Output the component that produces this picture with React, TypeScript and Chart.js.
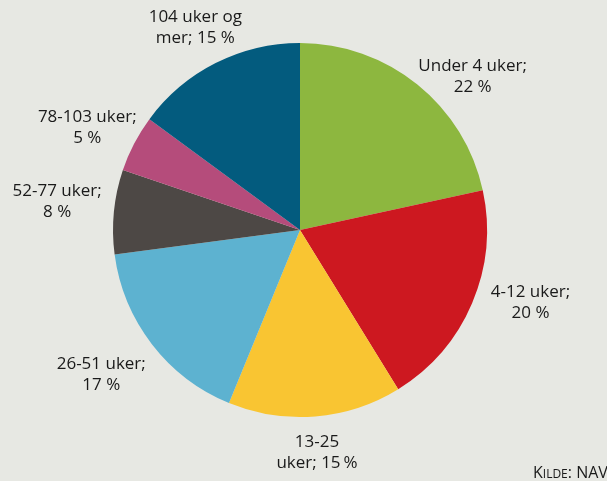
import React, { useEffect, useRef } from "react";
import { Chart, registerables } from "chart.js";

Chart.register(...registerables);

const categories = ["Under 4 uker", "4-12 uker", "13-25 uker", "26-51 uker", "52-77 uker", "78-103 uker", "104 uker og mer"];
const shares = [21.6, 19.6, 15.0, 16.7, 7.3, 4.9, 14.9];
const labelLines = [
  ["Under 4 uker;", "22 %"],
  ["4-12 uker;", "20 %"],
  ["13-25", "uker; 15\u2009%"],
  ["26-51 uker;", "17 %"],
  ["52-77 uker;", "8 %"],
  ["78-103 uker;", "5 %"],
  ["104 uker og", "mer; 15 %"],
];
const colors = ["#8db73f", "#cd1820", "#f9c532", "#5db2d0", "#4d4845", "#b54c7b", "#035b7e"];
const BG = "#e7e8e3";

// layout nudges for the slice labels (pixels, relative to mid-angle anchor)
const labelNudge: [number, number][] = [
  [27, 27],
  [17, -18],
  [-2, -9],
  [-15, 3],
  [-12, -6],
  [-7, 5],
  [0, 5],
];

const labelPlugin = {
  id: "sliceLabels",
  afterDraw(chart: any) {
    const ctx = chart.ctx;
    const meta = chart.getDatasetMeta(0);
    ctx.save();
    ctx.fillStyle = "#1a1a1a";
    ctx.font = "17px 'Open Sans', sans-serif";
    ctx.textAlign = "center";
    ctx.textBaseline = "middle";
    meta.data.forEach((arc: any, i: number) => {
      const mid = (arc.startAngle + arc.endAngle) / 2;
      const d = arc.outerRadius + 45;
      const x = arc.x + Math.cos(mid) * d + labelNudge[i][0];
      const y = arc.y + Math.sin(mid) * d + labelNudge[i][1];
      const lines = labelLines[i];
      lines.forEach((t, j) => {
        ctx.fillText(t, x, y + (j - (lines.length - 1) / 2) * 21);
      });
    });
    // source
    const w = chart.width;
    const h = chart.height;
    ctx.textAlign = "left";
    ctx.textBaseline = "alphabetic";
    let x = w - 74;
    const y = h - 3;
    const parts: [string, number][] = [["K", 16], ["ILDE", 12], [": NAV", 16]];
    parts.forEach(([t, s]) => {
      ctx.font = `${s}px 'Open Sans', sans-serif`;
      ctx.fillText(t, x, y);
      x += ctx.measureText(t).width;
    });
    ctx.restore();
  },
};

const bgPlugin = {
  id: "bg",
  beforeDraw(chart: any) {
    const ctx = chart.ctx;
    ctx.save();
    ctx.fillStyle = BG;
    ctx.fillRect(0, 0, chart.width, chart.height);
    ctx.restore();
  },
};

export default function App() {
  const ref = useRef<HTMLCanvasElement>(null);
  useEffect(() => {
    const chart = new Chart(ref.current as HTMLCanvasElement, {
      type: "pie",
      data: {
        labels: categories,
        datasets: [
          {
            data: shares,
            backgroundColor: colors,
            borderWidth: 0,
          },
        ],
      },
      options: {
        animation: false,
        responsive: true,
        maintainAspectRatio: false,
        layout: { padding: { top: 43, bottom: 64, left: 0, right: 7 } },
        plugins: {
          legend: { display: false },
          tooltip: { enabled: false },
        },
      },
      plugins: [bgPlugin, labelPlugin],
    });
    return () => chart.destroy();
  }, []);
  return (
    <div style={{ position: "fixed", left: 0, top: 0, width: 607, height: 481, background: BG }}>
      <canvas ref={ref} />
    </div>
  );
}
